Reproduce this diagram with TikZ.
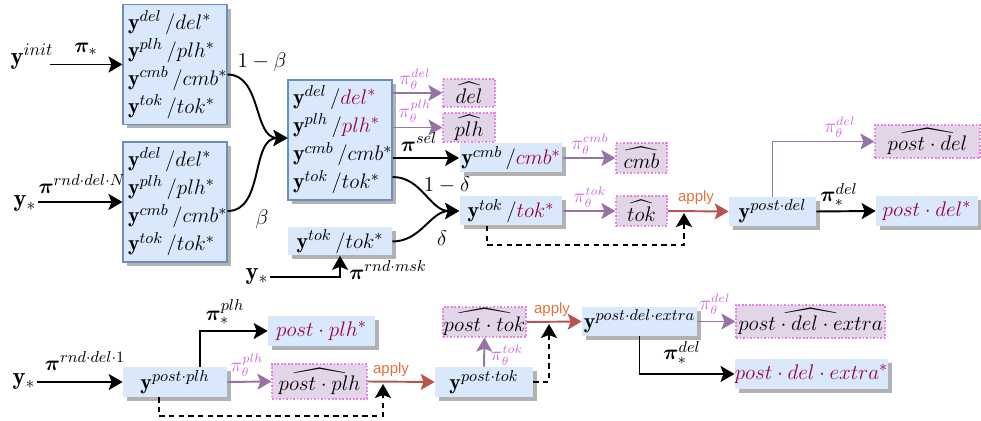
\documentclass[tikz,border=0pt]{standalone}
\usepackage{amsmath}
\usepackage{amssymb}
\usepackage{bm}
\usepackage{fontspec}
\newfontfamily\applyfont{Liberation Sans}
\usepackage{tikz}
\usetikzlibrary{arrows.meta}
\usetikzlibrary{shadows}
\usetikzlibrary{calc}
\definecolor{boxFill}{HTML}{DAE8FC}
\definecolor{boxLine}{HTML}{6C8EBF}
\definecolor{hatFill}{HTML}{E1D5E7}
\definecolor{hatLine}{HTML}{E580E5}
\definecolor{thetaLine}{HTML}{9673A6}
\definecolor{thetaText}{HTML}{CC6EDD}
\definecolor{starText}{HTML}{99004D}
\definecolor{applyLine}{HTML}{B85450}
\definecolor{applyText}{HTML}{E5703A}
\newcommand{\yrow}[2]{$\mathbf{y}^{#1}\,/#2$}

\begin{document}
\begin{tikzpicture}[x=0.02cm, y=-0.02cm,
	every node/.style={inner sep=1pt, font=\fontsize{12.5}{16}\selectfont},
	srcNode/.style={font=\fontsize{14}{16}\selectfont},
	yBox/.style={fill=boxFill, inner sep=0pt, drop shadow={shadow xshift=0.08cm, shadow yshift=-0.08cm, fill=black!30, opacity=1}},
	bigBox/.style={yBox, draw=boxLine, line width=0.6pt, align=left, inner xsep=0.1cm, text width=1.88cm, minimum height=2.4cm},
	starBox/.style={yBox, text=starText},
	hatBox/.style={fill=hatFill, draw=hatLine, line width=0.7pt, dash pattern=on 1pt off 1pt, inner sep=0pt},
	thetaLbl/.style={text=thetaText, font=\fontsize{10.5}{12}\selectfont},
	applyLbl/.style={text=applyText, font=\applyfont\fontsize{8.5}{10}\selectfont},
	blkArrow/.style={-{Stealth[length=2.8mm,width=3.2mm,inset=0.6mm]}, line width=1.1pt},
	thetaArrow/.style={blkArrow, draw=thetaLine},
	applyArrow/.style={blkArrow, draw=applyLine},
	dashArrow/.style={blkArrow, dash pattern=on 3pt off 2.5pt}]
	\useasboundingbox (0,0) rectangle (981,421);

	% big boxes
	\node[bigBox] (A) at (175,64.5) {\yrow{del}{del^*}\\ \yrow{plh}{plh^*}\\ \yrow{cmb}{cmb^*}\\ \yrow{tok}{tok^*}};
	\node[bigBox] (B) at (175,202) {\yrow{del}{del^*}\\ \yrow{plh}{plh^*}\\ \yrow{cmb}{cmb^*}\\ \yrow{tok}{tok^*}};
	\node[bigBox] (C) at (340,140) {\yrow{del}{\textcolor{starText}{del^*}}\\ \yrow{plh}{\textcolor{starText}{plh^*}}\\ \yrow{cmb}{cmb^*}\\ \yrow{tok}{tok^*}};

	% small boxes
	\node[yBox, minimum width=2.08cm, minimum height=0.56cm] (F) at (340,241.5) {\yrow{tok}{tok^*}};
	\node[yBox, minimum width=2.06cm, minimum height=0.58cm] (D) at (511,158) {\yrow{cmb}{\textcolor{starText}{cmb^*}}};
	\node[yBox, minimum width=2.06cm, minimum height=0.58cm] (E) at (511,211) {\yrow{tok}{\textcolor{starText}{tok^*}}};
	\node[yBox, minimum width=1.74cm, minimum height=0.58cm] (G) at (772.5,211.5) {$\mathbf{y}^{post\cdot del}$};
	\node[yBox, minimum width=2.08cm, minimum height=0.6cm] (H) at (175,382) {$\mathbf{y}^{post\cdot plh}$};
	\node[yBox, minimum width=1.96cm, minimum height=0.6cm] (I) at (484,382) {$\mathbf{y}^{post\cdot tok}$};
	\node[yBox, minimum width=2.3cm, minimum height=0.58cm] (J) at (639.5,321.5) {$\mathbf{y}^{post\cdot del\cdot extra}$};
	\node[starBox, minimum width=2.04cm, minimum height=0.6cm] (sDel) at (927,211) {$post\cdot del^*$};
	\node[starBox, minimum width=2.14cm, minimum height=0.6cm] (sPlh) at (321.5,331) {$post\cdot plh^*$};
	\node[starBox, minimum width=3.02cm, minimum height=0.6cm] (sExt) at (811.5,374) {$post\cdot del\cdot extra^*$};

	% predicted boxes
	\foreach \name/\x/\y/\w/\h/\txt in {hDel/469/93/1.04/0.56/del, hPlh/469/127.5/1.04/0.58/plh, hCmb/641.5/158/1.02/0.6/cmb, hTok/641.5/211/1.02/0.6/tok,
		hPdel/927.5/141.5/2.1/0.66/post\cdot del, hPplh/319.5/381.5/1.9/0.7/post\cdot plh, hPtok/484.5/322/1.66/0.6/post\cdot tok, hPext/810.5/321.5/2.98/0.66/post\cdot del\cdot extra}
	{
		\node[hatBox, minimum width=\w cm, minimum height=\h cm] (\name) at (\x,\y) {$\widehat{\txt}$};
	}

	% sources
	\node[srcNode] (yInit) at (32,57) {$\mathbf{y}^{init}$};
	\node[srcNode] (yStarB) at (25,204) {$\mathbf{y}_*$};
	\node[srcNode] (yStarF) at (257,277) {$\mathbf{y}_*$};
	\node[srcNode] (yStarH) at (24,382) {$\mathbf{y}_*$};
	\coordinate (tokApply) at (684,213);
	\coordinate (plhApply) at (383,384);
	\coordinate (ptokApply) at (549,324);

	% arrows
	\draw[blkArrow] ([xshift=-0.12cm]yInit.east |- A.west) -- (A.west);
	\draw[blkArrow] (yStarB.east |- B.west) -- (B.west);
	\draw[blkArrow] ([yshift=-0.2cm]A.east) to[out=0, in=180] ([yshift=0.04cm]C.west);
	\draw[blkArrow] ([yshift=-0.18cm]B.east) to[out=0, in=180] ([yshift=0.04cm]C.west);
	\draw[thetaArrow] (C.east |- hDel.west) -- (hDel.west);
	\draw[thetaArrow] (C.east |- hPlh.west) -- (hPlh.west);
	\draw[blkArrow] (C.east |- D.west) -- (D.west);
	\draw[blkArrow] ([yshift=-0.74cm]C.east) to[out=0, in=180] (E.west);
	\draw[blkArrow] (F.east) to[out=0, in=180] (E.west);
	\draw[blkArrow] (yStarF.east) -| (F.south);
	\draw[thetaArrow] (D.east) -- (hCmb.west);
	\draw[thetaArrow] (E.east) -- (hTok.west);
	\draw[applyArrow] (hTok.east) -- (G.west);
	\draw[dashArrow] ([xshift=-0.48cm]E.south) -- ++(0,19) -| (tokApply);
	\draw[thetaArrow] (G.north) |- (hPdel.west);
	\draw[blkArrow] (G.east) -- (sDel.west);

	\draw[blkArrow] (yStarH.east) -- (H.west);
	\draw[blkArrow] ([xshift=0.5cm]H.north) |- (sPlh.west);
	\draw[thetaArrow] (H.east) -- (hPplh.west);
	\draw[applyArrow] (hPplh.east) -- (I.west);
	\draw[dashArrow] ([xshift=-0.32cm]H.south) -- ++(0,19) -| (plhApply);
	\draw[thetaArrow] (I.north) -- (hPtok.south);
	\draw[applyArrow] (hPtok.east) -- (J.west);
	\draw[dashArrow] (I.east) -| (ptokApply);
	\draw[thetaArrow] (J.east) -- (hPext.west);
	\draw[blkArrow] (J.south) |- (sExt.west);

	% labels
	\foreach \name/\x/\y/\sup in {lDel/415/79/del, lPlh/415/111/plh, lCmb/590/144/cmb, lTok/590/197/tok, lPdel/840/127/del, lPplh/247/365/plh, lPtok/507/355/tok, lPext/715/304/del}
	{
		\node[thetaLbl] (\name) at (\x,\y) {$\pi_\theta^{\sup}$};
	}
	\foreach \name/\x/\y in {aTok/696/198, aPlh/391/370, aPtok/552/310}
	{
		\node[applyLbl] (\name) at (\x,\y) {apply};
	}
	\node (lStar) at (86,49) {$\bm{\pi}_*$};
	\node (lRndN) at (82,184) {$\bm{\pi}^{rnd\cdot del\cdot N}$};
	\node (lBetaA) at (262,62) {$1-\beta$};
	\node (lBetaB) at (262,219) {$\beta$};
	\node (lSel) at (419,142) {$\bm{\pi}^{sel}$};
	\node (lDeltaC) at (447,185) {$1-\delta$};
	\node (lDeltaF) at (442,238) {$\delta$};
	\node (lMsk) at (388,270) {$\bm{\pi}^{rnd\cdot msk}$};
	\node (lStarDel) at (839,195) {$\bm{\pi}_*^{del}$};
	\node (lRndOne) at (85,361) {$\bm{\pi}^{rnd\cdot del\cdot 1}$};
	\node (lStarPlh) at (225,312) {$\bm{\pi}_*^{plh}$};
	\node (lStarExt) at (682,353) {$\bm{\pi}_*^{del}$};
\end{tikzpicture}
\end{document}
